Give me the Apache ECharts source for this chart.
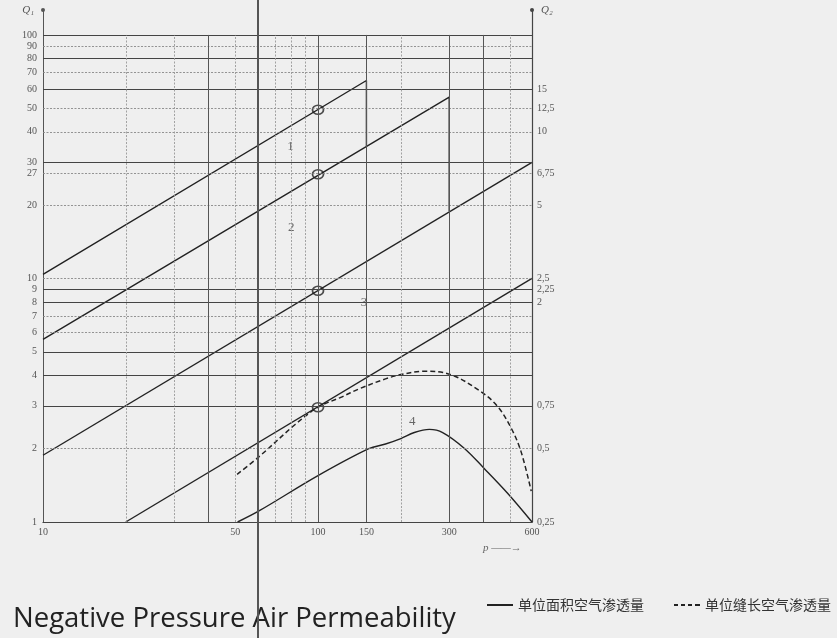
<!DOCTYPE html>
<html><head><meta charset="utf-8">
<script src="https://cdn.jsdelivr.net/npm/echarts@6/dist/echarts.min.js"></script>
<style>html,body{margin:0;padding:0;background:#efefef}#c{width:837px;height:638px}</style>
</head><body><div id="c"></div>
<script>
// ---- data ----
const pGrid = [20,30,40,50,60,70,80,90,100,150,200,300,400,500];
const pLabels = [10,50,100,150,300,600];
const q1Grid = [1,2,3,4,5,6,7,8,9,10,20,27,30,40,50,60,70,80,90,100];
const q1Labels = [1,2,3,4,5,6,7,8,9,10,20,27,30,40,50,60,70,80,90,100];
const q2Labels = [0.25,0.5,0.75,2,2.25,2.5,5,6.75,10,12.5,15];
const line1 = [[10,10.4],[150,65],[150,35]];
const line2 = [[10,5.62],[300,55.5],[300,18.9]];
const line3 = [[10,1.88],[600,30]];
const line4 = [[20,1],[600,10]];
const curve4 = [[51,1],[61,1.11],[100,1.55],[153,2.0],[176,2.09],[200,2.2],[224,2.33],[254,2.4],[284,2.33],[340,2.01],[402,1.66],[490,1.31],[600,1]];
const curveDash = [[50.8,1.57],[60.9,1.85],[82.8,2.52],[100,2.96],[121,3.25],[141,3.52],[176,3.87],[200,4.03],[243,4.16],[304,4.03],[391,3.43],[450,2.98],[504,2.43],[547,1.95],[596,1.34]];
const circles = [[100,49.3],[100,26.8],[100,8.9],[100,2.96]];
const curveLabels = [[79.4,34.9,'1'],[80,16.2,'2'],[147,7.94,'3'],[220,2.59,'4']];
const nameArea = '单位面积空气渗透量';
const nameSeam = '单位缝长空气渗透量';

// ---- styles ----
const strongQ = new Set([100,80,60,30,9,8,5,4,3,1]);
const strongP = new Set([40,100,150,300,400]);
const serif = '"Liberation Serif","DejaVu Serif",serif';
const ink = '#222';

const gridLines = []
  .concat(q1Grid.map(q => [
    {coord:[10,q], lineStyle:{color: strongQ.has(q)?'#444':'#888', width: strongQ.has(q)?1.1:0.9, type: strongQ.has(q)?'solid':[2,1.5]}},
    {coord:[600,q]}]))
  .concat(pGrid.map(p => [
    {coord:[p,1], lineStyle:{color: strongP.has(p)?'#555':'#999', width: strongP.has(p)?1:0.9, type: strongP.has(p)?'solid':[2,1.5]}},
    {coord:[p,100]}]));

const solid = (data, extra) => Object.assign({
  type:'line', name:nameArea, data, yAxisIndex:0, symbol:'none', showSymbol:false,
  lineStyle:{color:ink, width:1.4}, itemStyle:{color:ink}, z:3
}, extra||{});

const chart = echarts.init(document.getElementById('c'));
chart.setOption({
  animation:false,
  backgroundColor:'#efefef',
  title:{text:'Negative Pressure Air Permeability', left:8, top:600,
    textStyle:{fontFamily:'"Open Sans","Noto Sans",sans-serif', fontSize:27.5, fontWeight:'normal', color:'#222'}},
  legend:{left:482, top:593, itemWidth:26, itemHeight:2, itemGap:30,
    data:[
      {name:nameArea, icon:'rect', itemStyle:{color:ink}},
      {name:nameSeam, icon:'path://M0,0h4v2h-4z M7,0h4v2h-4z M14,0h4v2h-4z M21,0h5v2h-5z', itemStyle:{color:ink}}
    ],
    textStyle:{fontFamily:'"Noto Sans CJK SC",sans-serif', fontSize:14, color:'#333'}},
  grid:{left:43, right:305, top:10, bottom:116},
  xAxis:{type:'log', logBase:10, min:10, max:600,
    axisLine:{show:true, lineStyle:{color:'#333', width:1.2}},
    axisTick:{show:false}, splitLine:{show:false}, minorSplitLine:{show:false},
    axisLabel:{customValues:pLabels, formatter:v=>String(v), fontFamily:serif, fontSize:10, color:'#555', margin:5}},
  yAxis:[
    {type:'log', logBase:10, min:1, max:126.6, position:'left',
      name:'Q\u2081', nameLocation:'end', nameGap:0,
      nameTextStyle:{align:'right', verticalAlign:'middle', padding:[0,9,0,0], fontFamily:serif, fontStyle:'italic', fontSize:11, color:'#555'},
      axisLine:{show:true, symbol:['none','circle'], symbolSize:[4,4], lineStyle:{color:'#555', width:1}},
      axisTick:{show:false}, splitLine:{show:false},
      axisLabel:{customValues:q1Labels, formatter:v=>String(v), fontFamily:serif, fontSize:10, color:'#555', margin:6}},
    {type:'log', logBase:10, min:0.25, max:31.65, position:'right',
      name:'Q\u2082', nameLocation:'end', nameGap:0,
      nameTextStyle:{align:'left', verticalAlign:'middle', padding:[8,0,0,9], fontFamily:serif, fontStyle:'italic', fontSize:11, color:'#555'},
      axisLine:{show:true, symbol:['none','circle'], symbolSize:[4,4], lineStyle:{color:'#444', width:1.2}},
      axisTick:{show:false}, splitLine:{show:false},
      axisLabel:{customValues:q2Labels, formatter:v=>String(v).replace('.',','), fontFamily:serif, fontSize:10, color:'#555', margin:5, padding:[7,0,0,0]}}
  ],
  series:[
    {type:'line', name:'grid', data:[], z:1, silent:true,
      markLine:{silent:true, symbol:['none','none'], label:{show:false}, animation:false, data:gridLines}},
    solid(line1), solid(line2), solid(line3), solid(line4),
    solid(curve4, {smooth:0.35}),
    {type:'line', name:nameSeam, data:curveDash, symbol:'none', showSymbol:false, smooth:0.35,
      lineStyle:{color:ink, width:1.5, type:[5,3]}, itemStyle:{color:ink}, z:3},
    {type:'scatter', name:'circles', data:circles, symbol:'circle', symbolSize:[11,9], z:4,
      itemStyle:{color:'rgba(0,0,0,0)', borderColor:ink, borderWidth:1.6}},
    {type:'scatter', name:'labels', data:curveLabels, symbolSize:0, z:4, silent:true,
      label:{show:true, position:'inside', formatter:p=>p.data[2], fontFamily:serif, fontSize:13, color:'#444'}}
  ],
  graphic:[
    {type:'text', left:483, top:543, style:{text:'p \u2014\u2014\u2192', fontFamily:serif, fontStyle:'italic', fontSize:11, fill:'#666'}},
    {type:'line', shape:{x1:258, y1:0, x2:258, y2:638}, style:{stroke:'#555', lineWidth:2}, z:100}
  ]
});
</script></body></html>
